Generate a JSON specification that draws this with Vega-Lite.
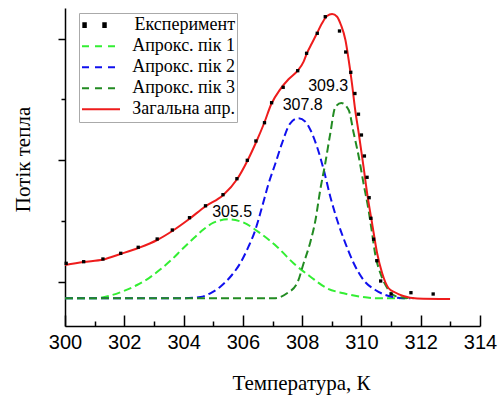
{
  "$schema": "https://vega.github.io/schema/vega-lite/v6.json",
  "width": 415,
  "height": 318,
  "autosize": {"type": "none"},
  "padding": {"left": 65, "top": 8, "right": 24, "bottom": 70},
  "background": "white",
  "config": {"view": {"stroke": null}, "axis": {"grid": false}},
  "datasets": {
    "exp": [
      {"T": 300.04, "v": 0.627, "series": "Експеримент"},
      {"T": 300.63, "v": 0.643, "series": "Експеримент"},
      {"T": 301.28, "v": 0.67, "series": "Експеримент"},
      {"T": 301.88, "v": 0.727, "series": "Експеримент"},
      {"T": 302.47, "v": 0.787, "series": "Експеримент"},
      {"T": 303.11, "v": 0.87, "series": "Експеримент"},
      {"T": 303.62, "v": 0.96, "series": "Експеримент"},
      {"T": 304.2, "v": 1.083, "series": "Експеримент"},
      {"T": 304.74, "v": 1.202, "series": "Експеримент"},
      {"T": 305.33, "v": 1.313, "series": "Експеримент"},
      {"T": 305.8, "v": 1.473, "series": "Експеримент"},
      {"T": 306.15, "v": 1.657, "series": "Експеримент"},
      {"T": 306.44, "v": 1.85, "series": "Експеримент"},
      {"T": 306.73, "v": 2.033, "series": "Експеримент"},
      {"T": 306.97, "v": 2.233, "series": "Експеримент"},
      {"T": 307.36, "v": 2.387, "series": "Експеримент"},
      {"T": 307.85, "v": 2.553, "series": "Експеримент"},
      {"T": 308.15, "v": 2.727, "series": "Експеримент"},
      {"T": 308.51, "v": 2.927, "series": "Експеримент"},
      {"T": 308.78, "v": 3.093, "series": "Експеримент"},
      {"T": 309.26, "v": 2.95, "series": "Експеримент"},
      {"T": 309.47, "v": 2.74, "series": "Експеримент"},
      {"T": 309.64, "v": 2.537, "series": "Експеримент"},
      {"T": 309.78, "v": 2.325, "series": "Експеримент"},
      {"T": 309.9, "v": 2.118, "series": "Експеримент"},
      {"T": 310.0, "v": 1.91, "series": "Експеримент"},
      {"T": 310.1, "v": 1.7, "series": "Експеримент"},
      {"T": 310.19, "v": 1.487, "series": "Експеримент"},
      {"T": 310.26, "v": 1.283, "series": "Експеримент"},
      {"T": 310.32, "v": 1.077, "series": "Експеримент"},
      {"T": 310.41, "v": 0.868, "series": "Експеримент"},
      {"T": 310.52, "v": 0.653, "series": "Експеримент"},
      {"T": 310.65, "v": 0.45, "series": "Експеримент"},
      {"T": 311.0, "v": 0.32, "series": "Експеримент"},
      {"T": 311.67, "v": 0.333, "series": "Експеримент"},
      {"T": 312.42, "v": 0.32, "series": "Експеримент"}
    ],
    "fit": [
      {"T": 300.0, "v": 0.277, "series": "Апрокс. пік 1"},
      {"T": 300.96, "v": 0.277, "series": "Апрокс. пік 1"},
      {"T": 301.53, "v": 0.305, "series": "Апрокс. пік 1"},
      {"T": 301.98, "v": 0.35, "series": "Апрокс. пік 1"},
      {"T": 302.43, "v": 0.41, "series": "Апрокс. пік 1"},
      {"T": 302.82, "v": 0.477, "series": "Апрокс. пік 1"},
      {"T": 303.22, "v": 0.567, "series": "Апрокс. пік 1"},
      {"T": 303.61, "v": 0.667, "series": "Апрокс. пік 1"},
      {"T": 303.95, "v": 0.767, "series": "Апрокс. пік 1"},
      {"T": 304.34, "v": 0.877, "series": "Апрокс. пік 1"},
      {"T": 304.68, "v": 0.967, "series": "Апрокс. пік 1"},
      {"T": 305.01, "v": 1.033, "series": "Апрокс. пік 1"},
      {"T": 305.52, "v": 1.067, "series": "Апрокс. пік 1"},
      {"T": 306.03, "v": 1.033, "series": "Апрокс. пік 1"},
      {"T": 306.59, "v": 0.927, "series": "Апрокс. пік 1"},
      {"T": 307.15, "v": 0.793, "series": "Апрокс. пік 1"},
      {"T": 307.71, "v": 0.627, "series": "Апрокс. пік 1"},
      {"T": 308.28, "v": 0.493, "series": "Апрокс. пік 1"},
      {"T": 308.84, "v": 0.377, "series": "Апрокс. пік 1"},
      {"T": 309.4, "v": 0.327, "series": "Апрокс. пік 1"},
      {"T": 309.96, "v": 0.293, "series": "Апрокс. пік 1"},
      {"T": 310.53, "v": 0.277, "series": "Апрокс. пік 1"},
      {"T": 311.65, "v": 0.277, "series": "Апрокс. пік 1"},

      {"T": 300.0, "v": 0.277, "series": "Апрокс. пік 2"},
      {"T": 303.89, "v": 0.277, "series": "Апрокс. пік 2"},
      {"T": 304.57, "v": 0.29, "series": "Апрокс. пік 2"},
      {"T": 304.9, "v": 0.327, "series": "Апрокс. пік 2"},
      {"T": 305.24, "v": 0.393, "series": "Апрокс. пік 2"},
      {"T": 305.63, "v": 0.51, "series": "Апрокс. пік 2"},
      {"T": 305.91, "v": 0.627, "series": "Апрокс. пік 2"},
      {"T": 306.19, "v": 0.793, "series": "Апрокс. пік 2"},
      {"T": 306.42, "v": 0.96, "series": "Апрокс. пік 2"},
      {"T": 306.65, "v": 1.193, "series": "Апрокс. пік 2"},
      {"T": 306.87, "v": 1.427, "series": "Апрокс. пік 2"},
      {"T": 307.1, "v": 1.627, "series": "Апрокс. пік 2"},
      {"T": 307.32, "v": 1.827, "series": "Апрокс. пік 2"},
      {"T": 307.6, "v": 2.027, "series": "Апрокс. пік 2"},
      {"T": 307.87, "v": 2.077, "series": "Апрокс. пік 2"},
      {"T": 308.11, "v": 2.043, "series": "Апрокс. пік 2"},
      {"T": 308.28, "v": 1.96, "series": "Апрокс. пік 2"},
      {"T": 308.5, "v": 1.793, "series": "Апрокс. пік 2"},
      {"T": 308.73, "v": 1.56, "series": "Апрокс. пік 2"},
      {"T": 308.95, "v": 1.293, "series": "Апрокс. пік 2"},
      {"T": 309.18, "v": 1.06, "series": "Апрокс. пік 2"},
      {"T": 309.46, "v": 0.827, "series": "Апрокс. пік 2"},
      {"T": 309.74, "v": 0.627, "series": "Апрокс. пік 2"},
      {"T": 310.07, "v": 0.46, "series": "Апрокс. пік 2"},
      {"T": 310.47, "v": 0.36, "series": "Апрокс. пік 2"},
      {"T": 310.98, "v": 0.295, "series": "Апрокс. пік 2"},
      {"T": 311.42, "v": 0.277, "series": "Апрокс. пік 2"},
      {"T": 311.65, "v": 0.277, "series": "Апрокс. пік 2"},

      {"T": 300.0, "v": 0.277, "series": "Апрокс. пік 3"},
      {"T": 307.04, "v": 0.277, "series": "Апрокс. пік 3"},
      {"T": 307.49, "v": 0.327, "series": "Апрокс. пік 3"},
      {"T": 307.83, "v": 0.427, "series": "Апрокс. пік 3"},
      {"T": 308.05, "v": 0.627, "series": "Апрокс. пік 3"},
      {"T": 308.28, "v": 0.843, "series": "Апрокс. пік 3"},
      {"T": 308.45, "v": 1.06, "series": "Апрокс. пік 3"},
      {"T": 308.61, "v": 1.36, "series": "Апрокс. пік 3"},
      {"T": 308.78, "v": 1.627, "series": "Апрокс. пік 3"},
      {"T": 308.95, "v": 1.927, "series": "Апрокс. пік 3"},
      {"T": 309.12, "v": 2.19, "series": "Апрокс. пік 3"},
      {"T": 309.32, "v": 2.23, "series": "Апрокс. пік 3"},
      {"T": 309.57, "v": 2.16, "series": "Апрокс. пік 3"},
      {"T": 309.74, "v": 1.927, "series": "Апрокс. пік 3"},
      {"T": 309.91, "v": 1.693, "series": "Апрокс. пік 3"},
      {"T": 310.07, "v": 1.427, "series": "Апрокс. пік 3"},
      {"T": 310.24, "v": 1.16, "series": "Апрокс. пік 3"},
      {"T": 310.36, "v": 0.927, "series": "Апрокс. пік 3"},
      {"T": 310.47, "v": 0.71, "series": "Апрокс. пік 3"},
      {"T": 310.64, "v": 0.527, "series": "Апрокс. пік 3"},
      {"T": 310.86, "v": 0.385, "series": "Апрокс. пік 3"},
      {"T": 311.2, "v": 0.293, "series": "Апрокс. пік 3"},
      {"T": 311.76, "v": 0.277, "series": "Апрокс. пік 3"},

      {"T": 300.0, "v": 0.61, "series": "Загальна апр."},
      {"T": 300.62, "v": 0.64, "series": "Загальна апр."},
      {"T": 301.29, "v": 0.665, "series": "Загальна апр."},
      {"T": 301.87, "v": 0.72, "series": "Загальна апр."},
      {"T": 302.47, "v": 0.78, "series": "Загальна апр."},
      {"T": 303.11, "v": 0.86, "series": "Загальна апр."},
      {"T": 303.62, "v": 0.95, "series": "Загальна апр."},
      {"T": 304.19, "v": 1.07, "series": "Загальна апр."},
      {"T": 304.73, "v": 1.195, "series": "Загальна апр."},
      {"T": 305.34, "v": 1.31, "series": "Загальна апр."},
      {"T": 305.81, "v": 1.47, "series": "Загальна апр."},
      {"T": 306.15, "v": 1.65, "series": "Загальна апр."},
      {"T": 306.45, "v": 1.84, "series": "Загальна апр."},
      {"T": 306.72, "v": 2.03, "series": "Загальна апр."},
      {"T": 306.96, "v": 2.22, "series": "Загальна апр."},
      {"T": 307.26, "v": 2.367, "series": "Загальна апр."},
      {"T": 307.54, "v": 2.467, "series": "Загальна апр."},
      {"T": 307.85, "v": 2.553, "series": "Загальна апр."},
      {"T": 308.05, "v": 2.643, "series": "Загальна апр."},
      {"T": 308.16, "v": 2.727, "series": "Загальна апр."},
      {"T": 308.33, "v": 2.827, "series": "Загальна апр."},
      {"T": 308.5, "v": 2.927, "series": "Загальна апр."},
      {"T": 308.67, "v": 3.027, "series": "Загальна апр."},
      {"T": 308.84, "v": 3.1, "series": "Загальна апр."},
      {"T": 309.01, "v": 3.12, "series": "Загальна апр."},
      {"T": 309.18, "v": 3.093, "series": "Загальна апр."},
      {"T": 309.31, "v": 3.01, "series": "Загальна апр."},
      {"T": 309.46, "v": 2.86, "series": "Загальна апр."},
      {"T": 309.57, "v": 2.66, "series": "Загальна апр."},
      {"T": 309.68, "v": 2.427, "series": "Загальна апр."},
      {"T": 309.79, "v": 2.16, "series": "Загальна апр."},
      {"T": 309.91, "v": 1.927, "series": "Загальна апр."},
      {"T": 310.07, "v": 1.593, "series": "Загальна апр."},
      {"T": 310.21, "v": 1.293, "series": "Загальна апр."},
      {"T": 310.36, "v": 1.027, "series": "Загальна апр."},
      {"T": 310.53, "v": 0.727, "series": "Загальна апр."},
      {"T": 310.7, "v": 0.527, "series": "Загальна апр."},
      {"T": 310.91, "v": 0.38, "series": "Загальна апр."},
      {"T": 311.14, "v": 0.335, "series": "Загальна апр."},
      {"T": 311.41, "v": 0.3, "series": "Загальна апр."},
      {"T": 311.88, "v": 0.275, "series": "Загальна апр."},
      {"T": 312.99, "v": 0.27, "series": "Загальна апр."}
    ],
    "labels": [
      {"T": 305.64, "v": 1.14, "label": "305.5"},
      {"T": 308.02, "v": 2.215, "label": "307.8"},
      {"T": 308.88, "v": 2.405, "label": "309.3"}
    ]
  },
  "encoding": {
    "x": {
      "field": "T", "type": "quantitative",
      "scale": {"domain": [300, 314], "nice": false, "zero": false},
      "axis": {
        "values": [300, 301, 302, 303, 304, 305, 306, 307, 308, 309, 310, 311, 312, 313, 314],
        "labelExpr": "datum.value % 2 === 0 ? datum.label : ''",
        "tickSize": {"condition": {"test": "datum.value % 2 !== 0", "value": -5}, "value": -11},
        "labelPadding": 17,
        "labelFont": "Liberation Sans", "labelFontSize": 20, "labelColor": "black",
        "labelFlush": false, "labelOverlap": false,
        "tickColor": "black", "tickWidth": 1.5,
        "domainColor": "black", "domainWidth": 1.5,
        "title": "Температура, К",
        "titleFont": "Liberation Serif", "titleFontSize": 21, "titleFontWeight": "normal", "titleColor": "black",
        "titleX": 236, "titleY": 63, "titleAlign": "center", "titleBaseline": "alphabetic"
      }
    },
    "y": {
      "field": "v", "type": "quantitative",
      "scale": {"domain": [0, 3.18], "nice": false, "zero": false},
      "axis": {
        "values": [0.443, 1.05, 1.657, 2.27, 2.873],
        "labels": false,
        "tickSize": {"condition": {"test": "datum.value === 1.05 || datum.value === 2.27", "value": 4}, "value": 7},
        "tickColor": "black", "tickWidth": 1.5,
        "domainColor": "black", "domainWidth": 1.5,
        "title": "Потік тепла",
        "titleFont": "Liberation Serif", "titleFontSize": 21, "titleFontWeight": "normal", "titleColor": "black",
        "titleX": -36, "titleY": 151, "titleAlign": "center", "titleBaseline": "alphabetic"
      }
    }
  },
  "layer": [
    {
      "data": {"name": "fit"},
      "transform": [{"filter": "datum.series !== 'Загальна апр.'"}],
      "mark": {"type": "line", "strokeWidth": 2, "strokeDash": [8, 4], "interpolate": "monotone"},
      "encoding": {
        "color": {
          "field": "series", "type": "nominal",
          "scale": {"domain": ["Експеримент", "Апрокс. пік 1", "Апрокс. пік 2", "Апрокс. пік 3", "Загальна апр."], "range": ["black", "#33ee33", "#1010ee", "#228b22", "#ee1c1c"]},
          "legend": {
            "title": null, "orient": "none", "legendX": 14, "legendY": 5, "direction": "vertical",
            "fillColor": "white", "strokeColor": "#aaaaaa", "padding": 2,
            "symbolType": "stroke", "symbolSize": 1444, "symbolStrokeWidth": 2,
            "clipHeight": 20.4, "rowPadding": 0,
            "labelFont": "Liberation Serif", "labelFontSize": 18, "labelColor": "black",
            "labelAlign": "right", "labelOffset": 114, "labelBaseline": "middle", "labelLimit": 300,
            "encode": {"symbols": {"update": {
              "shape": {"signal": "datum.value === 'Експеримент' ? 'M-0.93,-0.1H-0.8V0.1H-0.93Z M0.12,-0.1H0.25V0.1H0.12Z' : 'stroke'"},
              "fill": {"signal": "datum.value === 'Експеримент' ? 'black' : 'transparent'"},
              "stroke": {"signal": "datum.value === 'Експеримент' ? 'transparent' : datum.value === 'Апрокс. пік 1' ? '#33ee33' : datum.value === 'Апрокс. пік 2' ? '#1010ee' : datum.value === 'Апрокс. пік 3' ? '#228b22' : '#ee1c1c'"},
              "strokeDash": {"signal": "datum.value === 'Загальна апр.' || datum.value === 'Експеримент' ? [1, 0] : [7, 6]"},
              "strokeWidth": {"value": 2},
              "opacity": {"value": 1}
            }}}
          }
        }
      }
    },
    {
      "data": {"name": "fit"},
      "transform": [{"filter": "datum.series === 'Загальна апр.'"}],
      "mark": {"type": "line", "strokeWidth": 2, "interpolate": "monotone"},
      "encoding": {
        "color": {"field": "series", "type": "nominal", "scale": {"domain": ["Експеримент", "Апрокс. пік 1", "Апрокс. пік 2", "Апрокс. пік 3", "Загальна апр."], "range": ["black", "#33ee33", "#1010ee", "#228b22", "#ee1c1c"]}}
      }
    },
    {
      "data": {"name": "exp"},
      "mark": {"type": "square", "size": 11, "filled": true, "opacity": 1},
      "encoding": {
        "color": {"field": "series", "type": "nominal", "scale": {"domain": ["Експеримент", "Апрокс. пік 1", "Апрокс. пік 2", "Апрокс. пік 3", "Загальна апр."], "range": ["black", "#33ee33", "#1010ee", "#228b22", "#ee1c1c"]}}
      }
    },
    {
      "data": {"name": "labels"},
      "mark": {"type": "text", "font": "Liberation Sans", "fontSize": 16, "color": "black", "align": "center", "baseline": "middle"},
      "encoding": {"text": {"field": "label"}}
    }
  ]
}
